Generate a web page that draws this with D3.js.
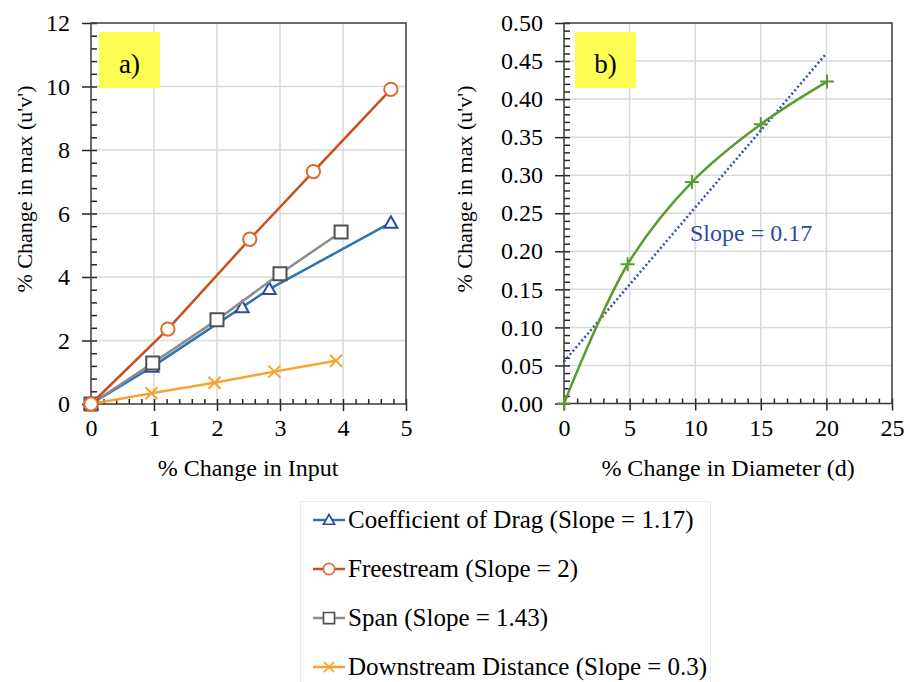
<!DOCTYPE html>
<html>
<head>
<meta charset="utf-8">
<script src="https://cdn.jsdelivr.net/npm/d3@7"></script>
<style>
  body { margin: 0; background: #fff; }
  svg text { font-family: "Liberation Serif", "DejaVu Serif", "Noto Serif", "Times New Roman", Times, serif; fill: #000; }
</style>
</head>
<body>
<div id="chart"></div>
<script>
// ---- data: panel a) % change in input ----
let dragX = [0, 0.97, 2.4, 2.83, 4.76];
let dragY = [0, 1.17, 3.05, 3.62, 5.71];
let freeX = [0, 1.22, 2.52, 3.53, 4.76];
let freeY = [0, 2.36, 5.19, 7.32, 9.91];
let spanX = [0, 0.98, 2.0, 3.0, 3.97];
let spanY = [0, 1.29, 2.65, 4.1, 5.42];
let downX = [0, 0.96, 1.96, 2.91, 3.89];
let downY = [0, 0.34, 0.67, 1.02, 1.36];

// ---- data: panel b) % change in diameter ----
let diamX = [0, 4.85, 9.75, 15.0, 20.05];
let diamY = [0, 0.183, 0.291, 0.367, 0.423];
let trendX = [0, 20];
let trendY = [0.055, 0.46];

// tick labels
let ticksAx = [0, 1, 2, 3, 4, 5];
let ticksAy = [0, 2, 4, 6, 8, 10, 12];
let ticksBx = [0, 5, 10, 15, 20, 25];
let ticksBy = [0, 0.05, 0.1, 0.15, 0.2, 0.25, 0.3, 0.35, 0.4, 0.45, 0.5];

let legendLabels = [
  'Coefficient of Drag (Slope = 1.17)',
  'Freestream (Slope = 2)',
  'Span (Slope = 1.43)',
  'Downstream Distance (Slope = 0.3)'
];

let serif = '"Liberation Serif", "DejaVu Serif", "Noto Serif", "Times New Roman", Times, serif';

// SVG setup
let svgWidth = 910;
let svgHeight = 682;

let svg = d3.select('#chart')
  .append('svg')
  .attr('width', svgWidth)
  .attr('height', svgHeight)
  .attr('font-family', serif);

svg.append('rect')
  .attr('width', svgWidth)
  .attr('height', svgHeight)
  .attr('fill', '#fff');

let zip = (xs, ys) => xs.map((v, i) => [v, ys[i]]);

// marker shapes (Excel style)
let markers = {
  triangle: 'M0,-6.5L6.5,5L-6.5,5Z',
  circle: d3.symbol(d3.symbolCircle, 140)(),
  square: 'M-6.5,-6.5H6.5V6.5H-6.5Z',
  cross: 'M-6,-6L6,6M6,-6L-6,6',
  plus: 'M-7,0H7M0,-7V7'
};

// series styles for panel a)
let seriesA = [
  { x: dragX, y: dragY, line: '#2e75b6', mark: '#2f4b9e', shape: 'triangle' },
  { x: freeX, y: freeY, line: '#c9501c', mark: '#e26b2b', shape: 'circle' },
  { x: spanX, y: spanY, line: '#8c8c8c', mark: '#505050', shape: 'square' },
  { x: downX, y: downY, line: '#f5a431', mark: '#f5a431', shape: 'cross' }
];

// draw one panel frame, grid and axes
function drawPanel(x, y, xTicks, yTicks, xMinor, yMinor, xFormat, yFormat) {
  let g = svg.append('g');
  let [x0, x1] = x.range();
  let [y0, y1] = y.range();

  // gridlines
  g.selectAll('.vgrid')
    .data(xTicks.slice(1, -1))
    .enter()
    .append('line')
    .attr('x1', d => x(d)).attr('x2', d => x(d))
    .attr('y1', y0).attr('y2', y1)
    .attr('stroke', '#d9d9d9')
    .attr('stroke-width', 1.5);

  g.selectAll('.hgrid')
    .data(yTicks.slice(1, -1))
    .enter()
    .append('line')
    .attr('x1', x0).attr('x2', x1)
    .attr('y1', d => y(d)).attr('y2', d => y(d))
    .attr('stroke', '#d9d9d9')
    .attr('stroke-width', 1.5);

  // minor ticks inside
  let xAll = d3.range(xTicks[0], xTicks[xTicks.length - 1] + xMinor / 2, xMinor);
  let yAll = d3.range(yTicks[0], yTicks[yTicks.length - 1] + yMinor / 2, yMinor);

  let xInner = g.append('g')
    .attr('transform', `translate(0, ${y0})`)
    .call(d3.axisBottom(x).tickValues(xAll).tickSizeInner(-5).tickSizeOuter(0).tickFormat(''));
  let yInner = g.append('g')
    .attr('transform', `translate(${x0}, 0)`)
    .call(d3.axisLeft(y).tickValues(yAll).tickSizeInner(-6).tickSizeOuter(0).tickFormat(''));

  // major ticks and labels outside
  let xAxis = g.append('g')
    .attr('transform', `translate(0, ${y0})`)
    .call(d3.axisBottom(x).tickValues(xTicks).tickSizeInner(7).tickSizeOuter(0).tickPadding(8).tickFormat(xFormat));
  let yAxis = g.append('g')
    .attr('transform', `translate(${x0}, 0)`)
    .call(d3.axisLeft(y).tickValues(yTicks).tickSizeInner(9).tickSizeOuter(0).tickPadding(12).tickFormat(yFormat));

  [xInner, yInner, xAxis, yAxis].forEach(a => {
    a.attr('font-family', serif);
    a.selectAll('line').attr('stroke', '#262626').attr('stroke-width', 1.5);
    a.select('.domain').remove();
  });
  [xAxis, yAxis].forEach(a => {
    a.selectAll('text')
      .attr('font-size', 24)
      .attr('fill', '#000');
  });
  xAxis.selectAll('text').attr('dy', '0.72em');

  // plot frame
  g.append('rect')
    .attr('x', x0).attr('y', y1)
    .attr('width', x1 - x0).attr('height', y0 - y1)
    .attr('fill', 'none')
    .attr('stroke', '#3a3a3a')
    .attr('stroke-width', 1.5);
  return g;
}

// ---- panel a) ----
let xA = d3.scaleLinear().domain([0, 5]).range([91, 406]);
let yA = d3.scaleLinear().domain([0, 12]).range([404, 23]);
drawPanel(xA, yA, ticksAx, ticksAy, 0.2, 0.4, d3.format('d'), d3.format('d'));

let lineA = d3.line().x(d => xA(d[0])).y(d => yA(d[1]));

// draw back to front so drag sits under span
[3, 0, 2, 1].forEach(i => {
  let s = seriesA[i];
  let pts = zip(s.x, s.y);
  svg.append('path')
    .attr('d', lineA(pts))
    .attr('fill', 'none')
    .attr('stroke', s.line)
    .attr('stroke-width', 2.5);
  svg.selectAll(null)
    .data(pts)
    .enter()
    .append('path')
    .attr('d', markers[s.shape])
    .attr('transform', d => `translate(${xA(d[0])}, ${yA(d[1])})`)
    .attr('fill', s.shape === 'cross' ? 'none' : '#fff')
    .attr('stroke', s.mark)
    .attr('stroke-width', 2);
});

// ---- panel b) ----
let xB = d3.scaleLinear().domain([0, 25]).range([564, 892]);
let yB = d3.scaleLinear().domain([0, 0.5]).range([403.5, 23]);
drawPanel(xB, yB, ticksBx, ticksBy, 1, 0.01, d3.format('d'), d3.format('.2f'));

let lineB = d3.line().x(d => xB(d[0])).y(d => yB(d[1]));

svg.append('path')
  .attr('d', lineB(zip(trendX, trendY)))
  .attr('fill', 'none')
  .attr('stroke', '#2f4fb5')
  .attr('stroke-width', 2.5)
  .attr('stroke-dasharray', '2,2.5');

svg.append('path')
  .attr('d', lineB.curve(d3.curveCatmullRom.alpha(0.5))(zip(diamX, diamY)))
  .attr('fill', 'none')
  .attr('stroke', '#5a9b2f')
  .attr('stroke-width', 2.5);

svg.selectAll(null)
  .data(zip(diamX, diamY))
  .enter()
  .append('path')
  .attr('d', markers.plus)
  .attr('transform', d => `translate(${xB(d[0])}, ${yB(d[1])})`)
  .attr('stroke', '#5a9b2f')
  .attr('stroke-width', 2);

svg.append('text')
  .attr('x', 690)
  .attr('y', 241)
  .attr('font-size', 24)
  .style('fill', '#2e4a9e')
  .text('Slope = 0.17');

// ---- panel labels ----
[['a)', 99], ['b)', 575]].forEach(([lab, bx]) => {
  svg.append('rect')
    .attr('x', bx).attr('y', 32)
    .attr('width', 61).attr('height', 56)
    .attr('fill', '#fdfd52');
  svg.append('text')
    .attr('x', bx + 30.5)
    .attr('y', 73)
    .attr('text-anchor', 'middle')
    .attr('font-size', 27)
    .text(lab);
});

// ---- axis titles ----
svg.append('text')
  .attr('x', 248)
  .attr('y', 476)
  .attr('text-anchor', 'middle')
  .attr('font-size', 24)
  .text('% Change in Input');

svg.append('text')
  .attr('x', 728)
  .attr('y', 476)
  .attr('text-anchor', 'middle')
  .attr('font-size', 24)
  .text('% Change in Diameter (d)');

[32, 472].forEach(tx => {
  svg.append('text')
    .attr('transform', `translate(${tx}, 189) rotate(-90)`)
    .attr('text-anchor', 'middle')
    .attr('font-size', 22)
    .text("% Change in max (u'v')");
});

// ---- legend ----
let legend = svg.append('g');
legend.append('rect')
  .attr('x', 300.5).attr('y', 501.5)
  .attr('width', 410).attr('height', 200)
  .attr('fill', 'none')
  .attr('stroke', '#ebebeb');

let legendY = d3.scalePoint().domain(legendLabels).range([528, 675]);

legendLabels.forEach((lab, i) => {
  let s = seriesA[i];
  let ly = legendY(lab);
  legend.append('line')
    .attr('x1', 313).attr('x2', 345)
    .attr('y1', ly - 8).attr('y2', ly - 8)
    .attr('stroke', s.line)
    .attr('stroke-width', 2.5);
  legend.append('path')
    .attr('d', markers[s.shape])
    .attr('transform', `translate(329, ${ly - 8}) scale(0.85)`)
    .attr('fill', s.shape === 'cross' ? 'none' : '#fff')
    .attr('stroke', s.mark)
    .attr('stroke-width', 2);
  legend.append('text')
    .attr('x', 348)
    .attr('y', ly)
    .attr('font-size', 25)
    .text(lab);
});
</script>
</body>
</html>
